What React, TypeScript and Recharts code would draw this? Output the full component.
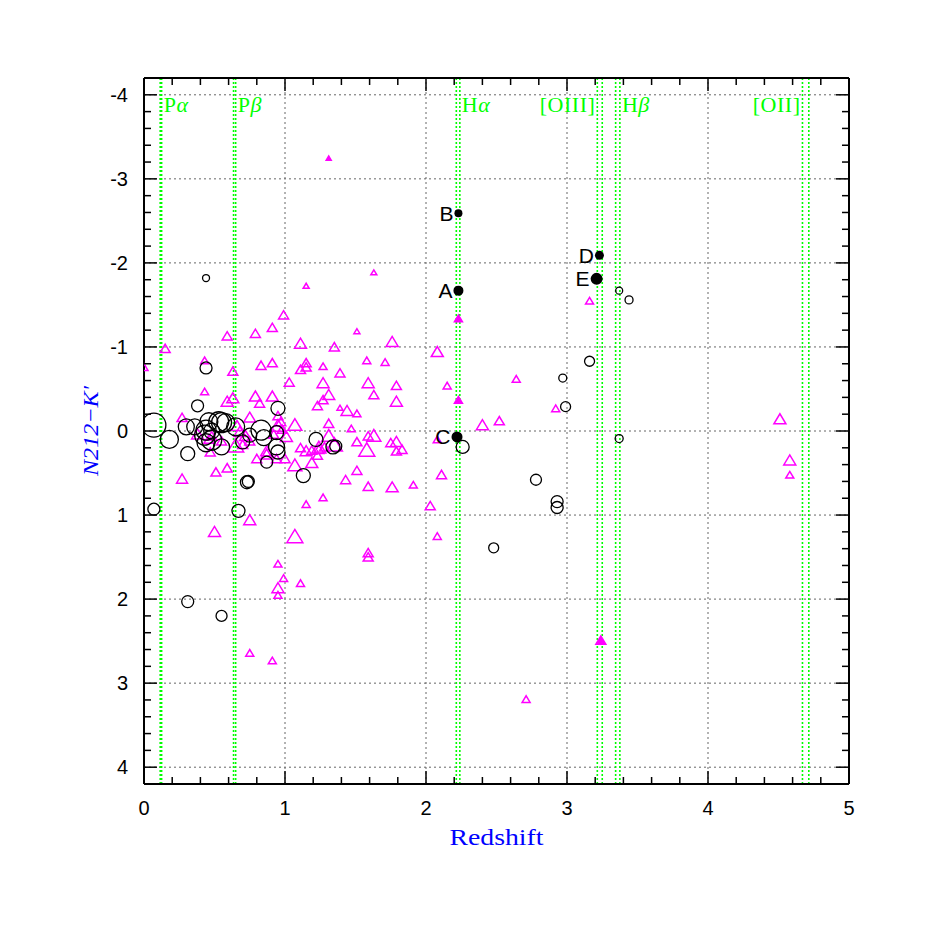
import { ScatterChart, Scatter, XAxis, YAxis, ZAxis, ReferenceLine } from 'recharts';

// redshift / colour points: [z, N212-K', marker size]
const namedObjects: [string, number, number, number][] = [
  ['A', 2.23, -1.67, 5],
  ['B', 2.23, -2.59, 4],
  ['C', 2.22, 0.07, 5.5],
  ['D', 3.23, -2.09, 4.5],
  ['E', 3.21, -1.81, 6],
];

const openCircles: [number, number, number][] = [
  [3.44, -1.56, 4], [3.37, -1.67, 3.5], [3.16, -0.83, 5], [2.97, -0.63, 4], [2.99, -0.29, 5],
  [3.37, 0.09, 4], [2.26, 0.19, 6.5], [2.78, 0.58, 5.5], [2.93, 0.84, 6], [2.93, 0.91, 6],
  [2.48, 1.39, 5], [0.44, -1.82, 3.5], [0.44, -0.75, 6], [0.07, 0.93, 6], [0.67, 0.95, 6.5],
  [0.31, 2.03, 6], [0.55, 2.2, 5.5], [0.73, 0.61, 6.5], [0.74, 0.6, 6], [1.13, 0.53, 7],
  [0.95, -0.27, 7], [1.22, 0.1, 7], [1.34, 0.19, 7], [1.36, 0.18, 6], [0.94, 0.19, 8],
  [0.95, 0.25, 7], [0.94, 0.02, 7], [0.87, 0.37, 6], [0.83, -0.01, 10], [0.85, 0.08, 8],
  [0.07, -0.07, 12], [0.18, 0.1, 9], [0.31, 0.27, 7], [0.38, -0.3, 6], [0.3, -0.05, 8],
  [0.36, -0.05, 8], [0.44, -0.01, 10], [0.46, -0.11, 9], [0.53, -0.11, 10], [0.55, -0.1, 10],
  [0.58, -0.1, 9], [0.48, 0.11, 10], [0.43, 0.05, 10], [0.55, 0.19, 8], [0.44, 0.14, 9],
  [0.65, -0.05, 9], [0.75, 0.05, 7], [0.7, 0.13, 7], [0.48, 0.0, 8],
];

const openTriangles: [number, number, number][] = [
  [0.0, -0.75, 4], [0.15, -0.97, 5], [0.27, -0.15, 5], [0.27, 0.58, 5.5], [0.43, -0.83, 4],
  [0.43, -0.46, 4], [0.47, 0.26, 5], [0.51, 0.5, 5], [0.59, 0.45, 5], [0.59, -1.12, 5],
  [0.63, -0.7, 5], [0.59, -0.34, 6], [0.63, -0.38, 6], [0.79, -1.15, 5], [0.91, -1.22, 5],
  [0.99, -1.37, 5], [1.11, -1.03, 6], [1.35, -0.99, 5], [0.83, -0.77, 5], [0.91, -0.8, 5],
  [1.15, -0.8, 5], [1.11, -0.72, 5], [1.15, -0.75, 5], [1.27, -0.76, 4], [1.03, -0.57, 5],
  [1.27, -0.56, 6], [1.31, -0.42, 6], [1.27, -0.36, 5], [1.23, -0.29, 5], [1.39, -0.68, 5],
  [0.79, -0.4, 6], [0.91, -0.4, 6], [0.82, -0.32, 5], [0.95, -0.17, 5], [0.75, -0.15, 6],
  [1.07, -0.06, 7], [1.31, -0.08, 5], [0.95, -0.05, 7], [1.07, 0.42, 7], [1.19, 0.39, 6],
  [0.8, 0.34, 5], [1.0, 0.34, 5], [1.15, 0.25, 6], [1.24, 0.21, 7], [1.35, 0.18, 8],
  [1.31, 0.07, 7], [1.15, -1.72, 3], [1.63, -1.88, 3], [1.51, -1.18, 3], [1.76, -1.05, 6],
  [2.08, -0.93, 6], [1.58, -0.83, 4], [1.71, -0.81, 4], [1.59, -0.56, 6], [1.79, -0.53, 5],
  [2.15, -0.53, 4], [1.63, -0.42, 5], [1.79, -0.34, 6], [1.39, -0.27, 3], [1.44, -0.23, 6],
  [1.51, -0.2, 4], [1.47, -0.02, 4], [1.59, 0.07, 5], [1.63, 0.07, 7], [1.51, 0.14, 5],
  [1.75, 0.15, 5], [1.79, 0.14, 6], [1.79, 0.25, 5], [1.83, 0.23, 5], [1.58, 0.24, 8],
  [2.08, 0.11, 4], [1.11, 0.21, 5], [1.19, 0.24, 5], [1.24, 0.23, 5], [1.28, 0.2, 5],
  [1.23, 0.3, 5], [1.51, 0.48, 5], [1.43, 0.59, 5], [1.59, 0.67, 5], [1.76, 0.68, 6],
  [1.91, 0.65, 4], [2.11, 0.53, 5], [1.27, 0.8, 4], [1.15, 0.88, 4], [2.03, 0.9, 5],
  [2.08, 1.26, 4], [1.59, 1.46, 5], [1.59, 1.51, 5], [0.95, 1.59, 4], [0.99, 1.76, 4],
  [0.95, 1.88, 6], [1.11, 1.82, 4], [0.95, 1.96, 4], [1.07, 1.27, 8], [0.75, 1.07, 6],
  [0.5, 1.21, 6], [0.75, 2.65, 4], [0.91, 2.74, 4], [2.4, -0.06, 6], [2.52, -0.11, 5],
  [2.64, -0.61, 4], [2.92, -0.26, 4], [3.16, -1.54, 4], [4.51, -0.13, 6], [4.58, 0.36, 6],
  [4.58, 0.53, 4], [2.71, 3.2, 4],
  [0.38, 0.05, 6], [0.46, 0.11, 5], [0.48, 0.07, 5], [0.66, -0.05, 6], [0.68, 0.02, 6],
  [0.65, 0.19, 8], [0.72, 0.07, 6], [0.55, 0.13, 5], [0.7, 0.17, 5], [0.75, 0.13, 5],
  [0.87, 0.25, 6], [0.87, 0.29, 6], [0.92, 0.05, 5], [0.98, -0.01, 5], [1.01, 0.08, 6],
  [0.94, 0.34, 5], [0.97, -0.1, 5],
];

const filledTriangles: [number, number, number][] = [
  [2.23, -1.33, 4], [2.23, -0.36, 4], [3.24, 2.5, 5], [1.31, -3.24, 2.5],
];

// emission lines: redshift range covered by the N212 filter
const lineBands = [
  { base: 'P', greek: 'α', lo: 0.115, hi: 0.125, side: 'right' },
  { base: 'P', greek: 'β', lo: 0.635, hi: 0.65, side: 'right' },
  { base: 'H', greek: 'α', lo: 2.215, hi: 2.24, side: 'right' },
  { base: '[OIII]', greek: '', lo: 3.215, hi: 3.25, side: 'left' },
  { base: 'H', greek: 'β', lo: 3.345, hi: 3.375, side: 'right' },
  { base: '[OII]', greek: '', lo: 4.67, hi: 4.715, side: 'left' },
];

const gridX = [1, 2, 3, 4];
const gridY = [-4, -3, -2, -1, 0, 1, 2, 3, 4];

const xTicks = [
  0, 0.2, 0.4, 0.6, 0.8, 1, 1.2, 1.4, 1.6, 1.8, 2, 2.2, 2.4, 2.6, 2.8, 3,
  3.2, 3.4, 3.6, 3.8, 4, 4.2, 4.4, 4.6, 4.8, 5,
];
const yTicks = [
  -4, -3.8, -3.6, -3.4, -3.2, -3, -2.8, -2.6, -2.4, -2.2, -2, -1.8, -1.6, -1.4, -1.2, -1,
  -0.8, -0.6, -0.4, -0.2, 0, 0.2, 0.4, 0.6, 0.8, 1, 1.2, 1.4, 1.6, 1.8, 2, 2.2, 2.4, 2.6,
  2.8, 3, 3.2, 3.4, 3.6, 3.8, 4,
];

const MAGENTA = '#ff00ff';
const GREEN = '#00ff00';
const SANS = '"Liberation Sans", Arial, sans-serif';
const SERIF = '"Liberation Serif", "Times New Roman", serif';

const toRows = (arr: [number, number, number][]) => arr.map(([x, y, s]) => ({ x, y, z: s * s }));
const namedRows = namedObjects.map(([label, x, y, s]) => ({ label, x, y, z: s * s }));

const isMajor = (v: number) => Math.abs(v - Math.round(v)) < 1e-6;

const radius = (p: any) => (p.size != null ? Math.sqrt(p.size / Math.PI) : (p.width || 0) / 2);

const OpenCircle = (p: any) => (
  <circle cx={p.cx} cy={p.cy} r={radius(p)} fill="none" stroke="#000" strokeWidth={1.3} />
);

const triangle = (filled: boolean) => (p: any) => {
  const w = radius(p);
  const pts = `${p.cx - w},${p.cy + 0.62 * w} ${p.cx + w},${p.cy + 0.62 * w} ${p.cx},${p.cy - 1.05 * w}`;
  return <polygon points={pts} fill={filled ? MAGENTA : 'none'} stroke={MAGENTA} strokeWidth={1.5} />;
};

const NamedDot = (p: any) => {
  const r = radius(p);
  return (
    <g>
      <circle cx={p.cx} cy={p.cy} r={r} fill="#000" />
      <text x={p.cx - r - 1} y={p.cy} dy="0.36em" textAnchor="end" fontSize={21} fontFamily={SANS} fill="#000">
        {p.payload.label}
      </text>
    </g>
  );
};

const BottomTick = (p: any) => {
  const v = p.payload.value;
  const len = isMajor(v) ? 13 : 7;
  return (
    <g>
      <line x1={p.x} x2={p.x} y1={p.y} y2={p.y - len} stroke="#000" strokeWidth={1.5} />
      {isMajor(v) && (
        <text x={p.x} y={p.y + 31} textAnchor="middle" fontSize={20} fontFamily={SANS} fill="#000">
          {Math.round(v)}
        </text>
      )}
    </g>
  );
};

const TopTick = (p: any) => {
  const len = isMajor(p.payload.value) ? 13 : 7;
  return <line x1={p.x} x2={p.x} y1={p.y} y2={p.y + len} stroke="#000" strokeWidth={1.5} />;
};

const LeftTick = (p: any) => {
  const v = p.payload.value;
  const len = isMajor(v) ? 13 : 7;
  return (
    <g>
      <line x1={p.x} x2={p.x + len} y1={p.y} y2={p.y} stroke="#000" strokeWidth={1.5} />
      {isMajor(v) && (
        <text x={p.x - 16} y={p.y} dy="0.35em" textAnchor="end" fontSize={20} fontFamily={SANS} fill="#000">
          {Math.round(v)}
        </text>
      )}
    </g>
  );
};

const RightTick = (p: any) => {
  const len = isMajor(p.payload.value) ? 13 : 7;
  return <line x1={p.x} x2={p.x - len} y1={p.y} y2={p.y} stroke="#000" strokeWidth={1.5} />;
};

const bandLabel = (b: (typeof lineBands)[number]) => (props: any) => {
  const vb = props && props.viewBox;
  if (!vb) return null;
  const right = b.side === 'right';
  return (
    <text
      x={right ? vb.x + 2 : vb.x - 2}
      y={vb.y + 34}
      textAnchor={right ? 'start' : 'end'}
      fontSize={22}
      fontFamily={SERIF}
      fill={GREEN}
      letterSpacing={0.5}
    >
      {b.base}
      {b.greek && <tspan fontStyle="italic">{b.greek}</tspan>}
    </text>
  );
};

const xLabel = (props: any) => {
  const vb = props && props.viewBox;
  if (!vb) return null;
  return (
    <text x={vb.x + vb.width / 2} y={vb.y + 61} textAnchor="middle" fontSize={24} fontFamily={SERIF} fill="#0000ff"
      textLength={94} lengthAdjust="spacingAndGlyphs">
      Redshift
    </text>
  );
};

const yLabel = (props: any) => {
  const vb = props && props.viewBox;
  if (!vb) return null;
  const x = vb.x + vb.width - 46;
  const y = vb.y + vb.height / 2;
  return (
    <text x={x} y={y} transform={`rotate(-90 ${x} ${y})`} textAnchor="middle" fontSize={22} fontFamily={SERIF}
      fontStyle="italic" fill="#0000ff" textLength={90} lengthAdjust="spacingAndGlyphs">
      N212−K′
    </text>
  );
};

export default function App() {
  return (
    <div style={{ width: 910, height: 900 }}>
      <ScatterChart width={910} height={900} margin={{ top: 50, right: 49, bottom: 64, left: 76 }}>
        <XAxis
          type="number"
          dataKey="x"
          domain={[0, 5]}
          ticks={xTicks}
          allowDataOverflow
          interval={0}
          tickSize={0}
          tickMargin={0}
          tickLine={false}
          tick={BottomTick}
          height={60}
          axisLine={{ stroke: '#000', strokeWidth: 2 }}
          label={xLabel}
        />
        <XAxis
          xAxisId="top"
          orientation="top"
          type="number"
          dataKey="x"
          domain={[0, 5]}
          ticks={xTicks}
          allowDataOverflow
          interval={0}
          tickSize={0}
          tickMargin={0}
          tickLine={false}
          tick={TopTick}
          height={20}
          axisLine={{ stroke: '#000', strokeWidth: 2 }}
        />
        <YAxis
          type="number"
          dataKey="y"
          domain={[-4.2, 4.2]}
          reversed
          ticks={yTicks}
          allowDataOverflow
          interval={0}
          tickSize={0}
          tickMargin={0}
          tickLine={false}
          tick={LeftTick}
          width={60}
          axisLine={{ stroke: '#000', strokeWidth: 2 }}
          label={yLabel}
        />
        <YAxis
          yAxisId="right"
          orientation="right"
          type="number"
          dataKey="y"
          domain={[-4.2, 4.2]}
          reversed
          ticks={yTicks}
          allowDataOverflow
          interval={0}
          tickSize={0}
          tickMargin={0}
          tickLine={false}
          tick={RightTick}
          width={20}
          axisLine={{ stroke: '#000', strokeWidth: 2 }}
        />
        <ZAxis type="number" dataKey="z" domain={[0, 144]} range={[0, 144 * Math.PI]} />

        {gridX.map((v) => (
          <ReferenceLine key={`gx${v}`} x={v} stroke="#666" strokeWidth={1} strokeDasharray="2 3" />
        ))}
        {gridY.map((v) => (
          <ReferenceLine key={`gy${v}`} y={v} stroke="#666" strokeWidth={1} strokeDasharray="2 3" />
        ))}
        {lineBands.map((b) => [
          <ReferenceLine
            key={`lo${b.lo}`}
            x={b.lo}
            stroke={GREEN}
            strokeWidth={1.6}
            strokeDasharray="2 2"
            label={b.side === 'left' ? bandLabel(b) : undefined}
          />,
          <ReferenceLine
            key={`hi${b.hi}`}
            x={b.hi}
            stroke={GREEN}
            strokeWidth={1.6}
            strokeDasharray="2 2"
            label={b.side === 'right' ? bandLabel(b) : undefined}
          />,
        ])}

        <Scatter data={toRows(openTriangles)} shape={triangle(false)} isAnimationActive={false} />
        <Scatter data={toRows(filledTriangles)} shape={triangle(true)} isAnimationActive={false} />
        <Scatter data={toRows(openCircles)} shape={OpenCircle} isAnimationActive={false} />
        <Scatter data={namedRows} shape={NamedDot} isAnimationActive={false} />
      </ScatterChart>
    </div>
  );
}
